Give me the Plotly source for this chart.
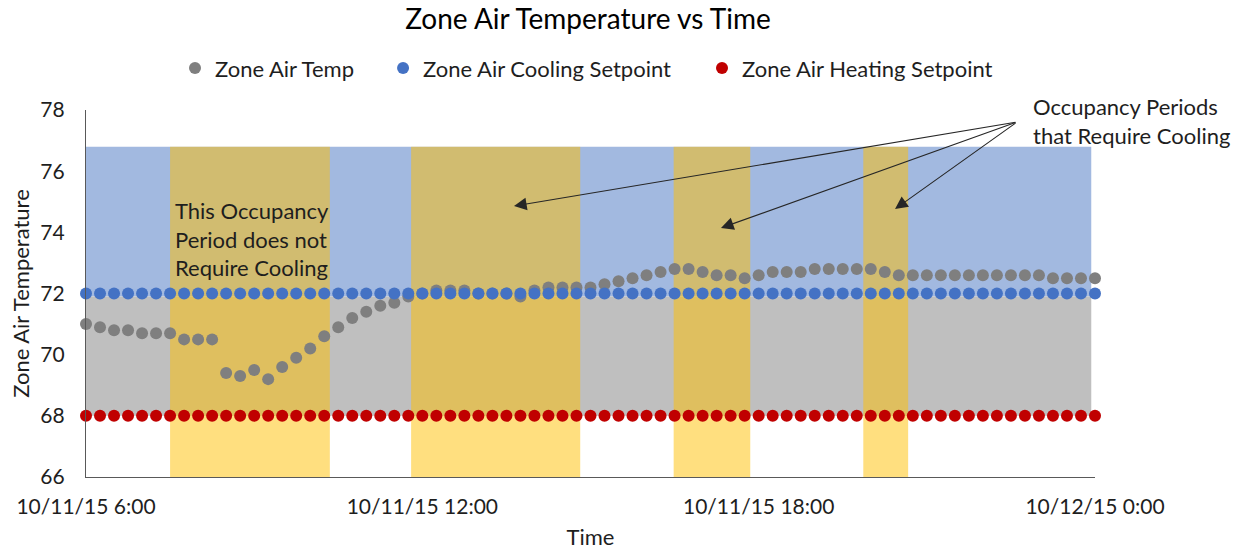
import pandas as pd
import plotly.graph_objects as go

# ---------------- data ----------------
times = pd.date_range("2015-10-11 06:00", "2015-10-12 00:00", freq="15min")

zone_air_temp = [
    71.0, 70.9, 70.8, 70.8, 70.7, 70.7, 70.7, 70.5, 70.5, 70.5,
    69.4, 69.3, 69.5, 69.2, 69.6, 69.9, 70.2, 70.6, 70.9, 71.2,
    71.4, 71.6, 71.7, 71.9, 72.0, 72.1, 72.1, 72.1, 72.0, 72.0,
    72.0, 71.9, 72.1, 72.2, 72.2, 72.2, 72.2, 72.3, 72.4, 72.5,
    72.6, 72.7, 72.8, 72.8, 72.7, 72.6, 72.6, 72.5, 72.6, 72.7,
    72.7, 72.7, 72.8, 72.8, 72.8, 72.8, 72.8, 72.7, 72.6, 72.6,
    72.6, 72.6, 72.6, 72.6, 72.6, 72.6, 72.6, 72.6, 72.6, 72.5,
    72.5, 72.5, 72.5,
]
cooling_setpoint = [72.0] * 73
heating_setpoint = [68.0] * 73

# background comfort bands
band_start = "2015-10-11 06:00"
band_end = "2015-10-11 23:56"
band_low, band_mid, band_top = 68.0, 71.9, 76.8

# occupancy periods
occ_start = ["2015-10-11 07:30", "2015-10-11 11:48", "2015-10-11 16:29", "2015-10-11 19:52"]
occ_end = ["2015-10-11 10:21", "2015-10-11 14:49", "2015-10-11 17:51", "2015-10-11 20:40"]

tick_vals = ["2015-10-11 06:00", "2015-10-11 12:00", "2015-10-11 18:00", "2015-10-12 00:00"]
tick_text = ["10/11/15 6:00", "10/11/15 12:00", "10/11/15 18:00", "10/12/15 0:00"]
y_ticks = [66, 68, 70, 72, 74, 76, 78]

# ---------------- figure ----------------
FONT = "Lato"
TXT = "#1e1e1e"

fig = go.Figure()

series = [
    ("Zone Air Temp", zone_air_temp, "#7F7F7F", "legend"),
    ("Zone Air Cooling Setpoint", cooling_setpoint, "#4472C4", "legend2"),
    ("Zone Air Heating Setpoint", heating_setpoint, "#C00000", "legend3"),
]
for name, vals, col, leg in series:
    fig.add_trace(go.Scatter(
        x=times, y=vals, mode="markers", name=name,
        marker=dict(color=col, size=12, line=dict(width=0)),
        cliponaxis=False, legend=leg, showlegend=True,
    ))

shapes = [
    dict(type="rect", xref="x", yref="y", x0=band_start, x1=band_end,
         y0=band_mid, y1=band_top, fillcolor="#A2B9E0", line=dict(width=0), layer="below"),
    dict(type="rect", xref="x", yref="y", x0=band_start, x1=band_end,
         y0=band_low, y1=band_mid, fillcolor="#BFBFBF", line=dict(width=0), layer="below"),
]
for s, e in zip(occ_start, occ_end):
    shapes.append(dict(type="rect", xref="x", yref="y", x0=s, x1=e, y0=66, y1=band_top,
                       fillcolor="rgba(255,192,0,0.5)", line=dict(width=0), layer="below"))

annotations = [
    dict(text="This Occupancy<br>Period does not<br>Require Cooling", xref="paper", yref="paper",
         x=0.086, y=0.768, xanchor="left", yanchor="top", align="left", showarrow=False,
         font=dict(family=FONT, size=22, color=TXT)),
    dict(text="Occupancy Periods<br>that Require Cooling", xref="paper", yref="paper",
         x=0.937, y=1.052, xanchor="left", yanchor="top", align="left", showarrow=False,
         font=dict(family=FONT, size=22, color=TXT)),
]
for tx, ty, ax, ay in [(0.4242, 0.7384, 503, -84), (0.6293, 0.6785, 296, -106), (0.8018, 0.7302, 122, -87)]:
    annotations.append(dict(text="", xref="paper", yref="paper", x=tx, y=ty, ax=ax, ay=ay,
                            axref="pixel", ayref="pixel", showarrow=True, arrowhead=2,
                            arrowsize=2.3, arrowwidth=1.1, arrowcolor="#262626"))

leg_common = dict(orientation="h", yanchor="middle", y=1.114, xanchor="left",
                  font=dict(family=FONT, size=22, color=TXT), bgcolor="rgba(0,0,0,0)")

fig.update_layout(
    width=1247, height=550,
    margin=dict(l=86, r=152, t=110, b=73, autoexpand=False),
    plot_bgcolor="white", paper_bgcolor="white",
    showlegend=True,
    font=dict(family=FONT, size=22, color=TXT),
    title=dict(text="Zone Air Temperature vs Time", x=0.4715, xanchor="center", y=0.965, yanchor="middle",
               font=dict(family=FONT, size=28, color="#000")),
    legend=dict(x=0.0882, **leg_common),
    legend2=dict(x=0.2944, **leg_common),
    legend3=dict(x=0.6105, **leg_common),
    shapes=shapes, annotations=annotations,
    xaxis=dict(type="date", range=["2015-10-11 06:00", "2015-10-12 00:00"],
               tickvals=tick_vals, ticktext=tick_text, showgrid=False, zeroline=False,
               showline=True, linecolor="#595959", linewidth=1.3, ticks="",
               ticklabelstandoff=11, automargin=False, tickfont=dict(size=21),
               title=dict(text="Time", standoff=22, font=dict(family=FONT, size=22, color=TXT))),
    yaxis=dict(range=[66, 78], tickvals=y_ticks, showgrid=False, zeroline=False,
               showline=True, linecolor="#595959", linewidth=1.3, ticks="",
               ticklabelstandoff=16, automargin=False, tickfont=dict(size=21),
               title=dict(text="Zone Air Temperature", standoff=4,
                          font=dict(family=FONT, size=22, color=TXT))),
)

# remove the default 8px page margin so the figure fills the window exactly
fig.write_html("out.html", config={"displayModeBar": False},
               post_script="document.body.style.margin='0';")
